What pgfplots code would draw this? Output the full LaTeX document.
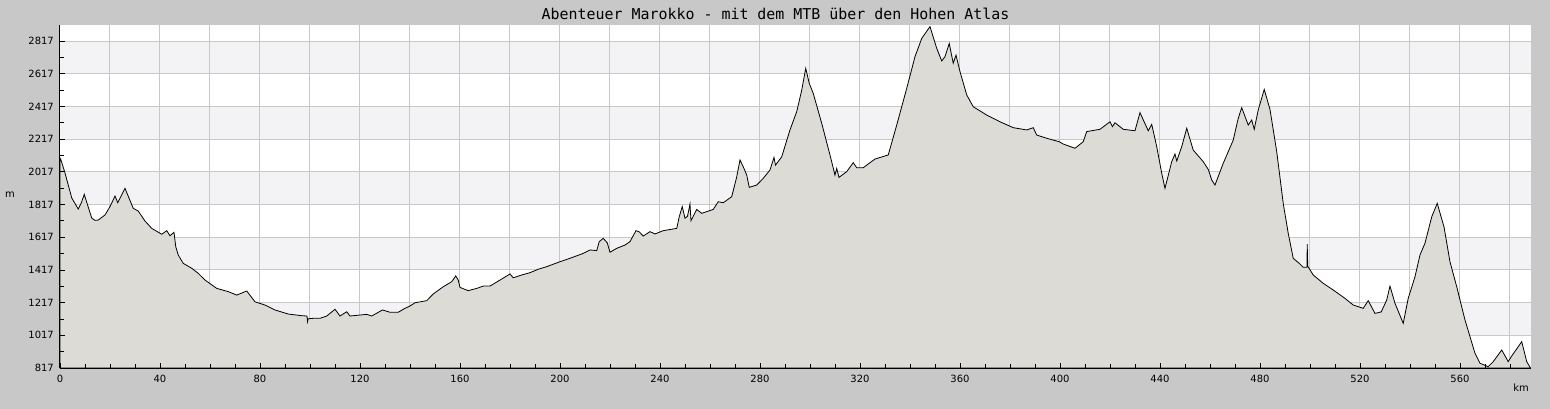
\documentclass[border=0pt]{standalone}
\usepackage{fontspec}
\setmainfont{DejaVu Sans}
\newfontfamily\titlefont{DejaVu Sans Mono}
\usepackage{pgfplots}
\pgfplotsset{compat=1.18}
\definecolor{bgc}{RGB}{200,200,200}
\definecolor{bandc}{RGB}{243,242,245}
\definecolor{gridc}{RGB}{200,200,200}
\definecolor{fillc}{RGB}{220,219,214}
\begin{document}
\begin{tikzpicture}
\fill[bgc] (-60bp,-41bp) rectangle (1490bp,368bp);
\begin{axis}[
  at={(0,0)}, anchor=south west,
  scale only axis, width=1471bp, height=343bp,
  xmin=0, xmax=588.4, ymin=817, ymax=2915,
  axis x line=bottom, axis y line=left,
  axis line style={-, black, line width=1bp},
  axis background/.style={fill=white},
  axis on top,
  xtick={0,40,...,560}, minor xtick={10,20,...,580},
  ytick={817,1017,...,2817}, minor ytick={917,1117,...,2717},
  tick align=inside,
  major tick length=5bp, minor tick length=4bp,
  tick style={black, line width=0.8bp},
  /pgf/number format/assume math mode=true,
  /pgf/number format/1000 sep={},
  tick label style={font=\fontsize{10}{12}\selectfont, inner sep=0pt},
  yticklabel style={xshift=-6bp},
  xticklabel style={yshift=-7bp},
  clip=true,
]
\fill[bandc] (axis cs:0,1017) rectangle (axis cs:588.4,1217);
\fill[bandc] (axis cs:0,1417) rectangle (axis cs:588.4,1617);
\fill[bandc] (axis cs:0,1817) rectangle (axis cs:588.4,2017);
\fill[bandc] (axis cs:0,2217) rectangle (axis cs:588.4,2417);
\fill[bandc] (axis cs:0,2617) rectangle (axis cs:588.4,2817);
\pgfplotsinvokeforeach{20,40,...,580}{\draw[gridc, line width=1bp] (axis cs:#1,817) -- (axis cs:#1,2915);}
\pgfplotsinvokeforeach{1017,1217,...,2817}{\draw[gridc, line width=1bp] (axis cs:0,#1) -- (axis cs:588.4,#1);}
\addplot[draw=black, line width=0.8bp, fill=fillc] coordinates {
(0,2101) (0.4,2089) (2,2010) (4.7,1857) (7.3,1789) (8.6,1830) (9.7,1879) (10.5,1840)
(12.7,1734) (14,1720) (15.3,1722) (18,1753) (20,1804) (22,1869) (23.1,1828) (26,1916)
(27.5,1860) (29.3,1794) (31.3,1777) (34,1716) (36.7,1671) (40.7,1635) (42.7,1657) (44,1626)
(45.6,1647) (46.3,1559) (47.3,1508) (49.3,1457) (52.7,1427) (55.3,1396) (58,1355) (62.7,1304)
(67.3,1284) (70.7,1263) (74.7,1288) (78,1222) (82,1202) (86,1172) (91.3,1147) (96.7,1137)
(98.8,1135) (99,1100) (99.3,1118) (101.3,1121) (104,1121) (106.7,1135) (110,1176) (112,1135)
(114.7,1161) (116,1135) (120,1141) (122.7,1145) (124.7,1135) (129,1172) (132,1158) (135.3,1158)
(138,1182) (140,1196) (142,1216) (146.7,1229) (149.3,1270) (153.3,1314) (156.7,1345) (158.3,1380)
(159.3,1355) (160,1310) (163.3,1290) (166.7,1304) (169.3,1318) (172,1318) (176,1355) (180,1392)
(181.3,1369) (184.7,1386) (188,1400) (191.3,1421) (194.7,1437) (200,1467) (204,1488) (209.3,1518)
(212,1539) (214.7,1535) (215.7,1590) (217.3,1610) (218.9,1583) (220,1525) (222.7,1549) (226,1569)
(228,1590) (230.4,1657) (231.7,1650) (233.3,1624) (236,1651) (238,1637) (241.3,1657) (246.7,1671)
(247.7,1742) (248.9,1804) (250,1733) (251,1745) (252,1820) (252.4,1718) (254.7,1787) (256.7,1763)
(261.3,1787) (263.3,1834) (265.3,1828) (268.7,1865) (270.7,1987) (272,2089) (273.3,2048) (274.7,1997)
(275.7,1922) (278.7,1936) (281.3,1977) (284,2028) (285.6,2105) (286.2,2058) (288.7,2109) (292,2273)
(294.7,2385) (296.7,2517) (298.3,2650) (299.7,2558) (301.3,2497) (304.7,2313) (308,2120) (310,1997)
(310.7,2038) (311.6,1983) (314.7,2018) (317.3,2073) (318.7,2042) (321.3,2042) (323.3,2065) (326,2095)
(331.3,2120) (334.7,2303) (338.7,2528) (342,2721) (344.7,2833) (348,2905) (350.7,2772) (352.7,2695)
(354,2721) (355.7,2802) (357.3,2681) (358.4,2731) (360,2630) (362.7,2487) (365.3,2415) (370.7,2364)
(376,2323) (381.3,2287) (386.7,2273) (389.3,2287) (390.7,2242) (394.7,2222) (399.7,2201) (401.3,2187)
(406,2161) (409.3,2201) (410.7,2263) (416,2277) (420,2323) (421,2293) (422,2317) (425.3,2277)
(430,2268) (432,2379) (435.3,2268) (436.7,2307) (438.7,2171) (440.7,2008) (442,1916) (444.7,2079)
(446,2126) (446.7,2083) (448.7,2171) (450.7,2283) (453.3,2150) (457.3,2079) (459.3,2032) (460.7,1967)
(462,1936) (465.3,2069) (469.3,2211) (471.3,2344) (472.7,2409) (475.3,2303) (476.7,2334) (477.7,2277)
(479.3,2395) (481.7,2521) (484,2399) (486.7,2140) (489.3,1824) (491.3,1641) (493.3,1488) (495.7,1457)
(497.3,1433) (498.8,1433) (498.9,1574) (499.1,1440) (501.3,1386) (505.3,1335) (509.3,1294) (514,1243)
(517.3,1202) (521.3,1182) (523.3,1229) (526,1151) (528.5,1160) (530.7,1233) (532,1318) (534,1213)
(537.3,1090) (539.3,1243) (542,1375) (544,1508) (546,1580) (548.7,1742) (550.9,1824) (553.6,1681)
(556,1467) (558.7,1314) (562,1111) (566,907) (568,846) (571.3,825) (573.3,856) (576.7,927)
(579.3,856) (580.5,886) (584.7,978) (586.7,856) (588.2,817)
} \closedcycle;
\end{axis}
\node[font=\titlefont\fontsize{15}{17}\selectfont, inner sep=0pt] at (715.5bp,354bp) {Abenteuer Marokko - mit dem MTB über den Hohen Atlas};
\node[font=\fontsize{10}{12}\selectfont, inner sep=0pt] at (-50bp,173bp) {m};
\node[font=\fontsize{10}{12}\selectfont, inner sep=0pt] at (1461bp,-20bp) {km};
\end{tikzpicture}
\end{document}
